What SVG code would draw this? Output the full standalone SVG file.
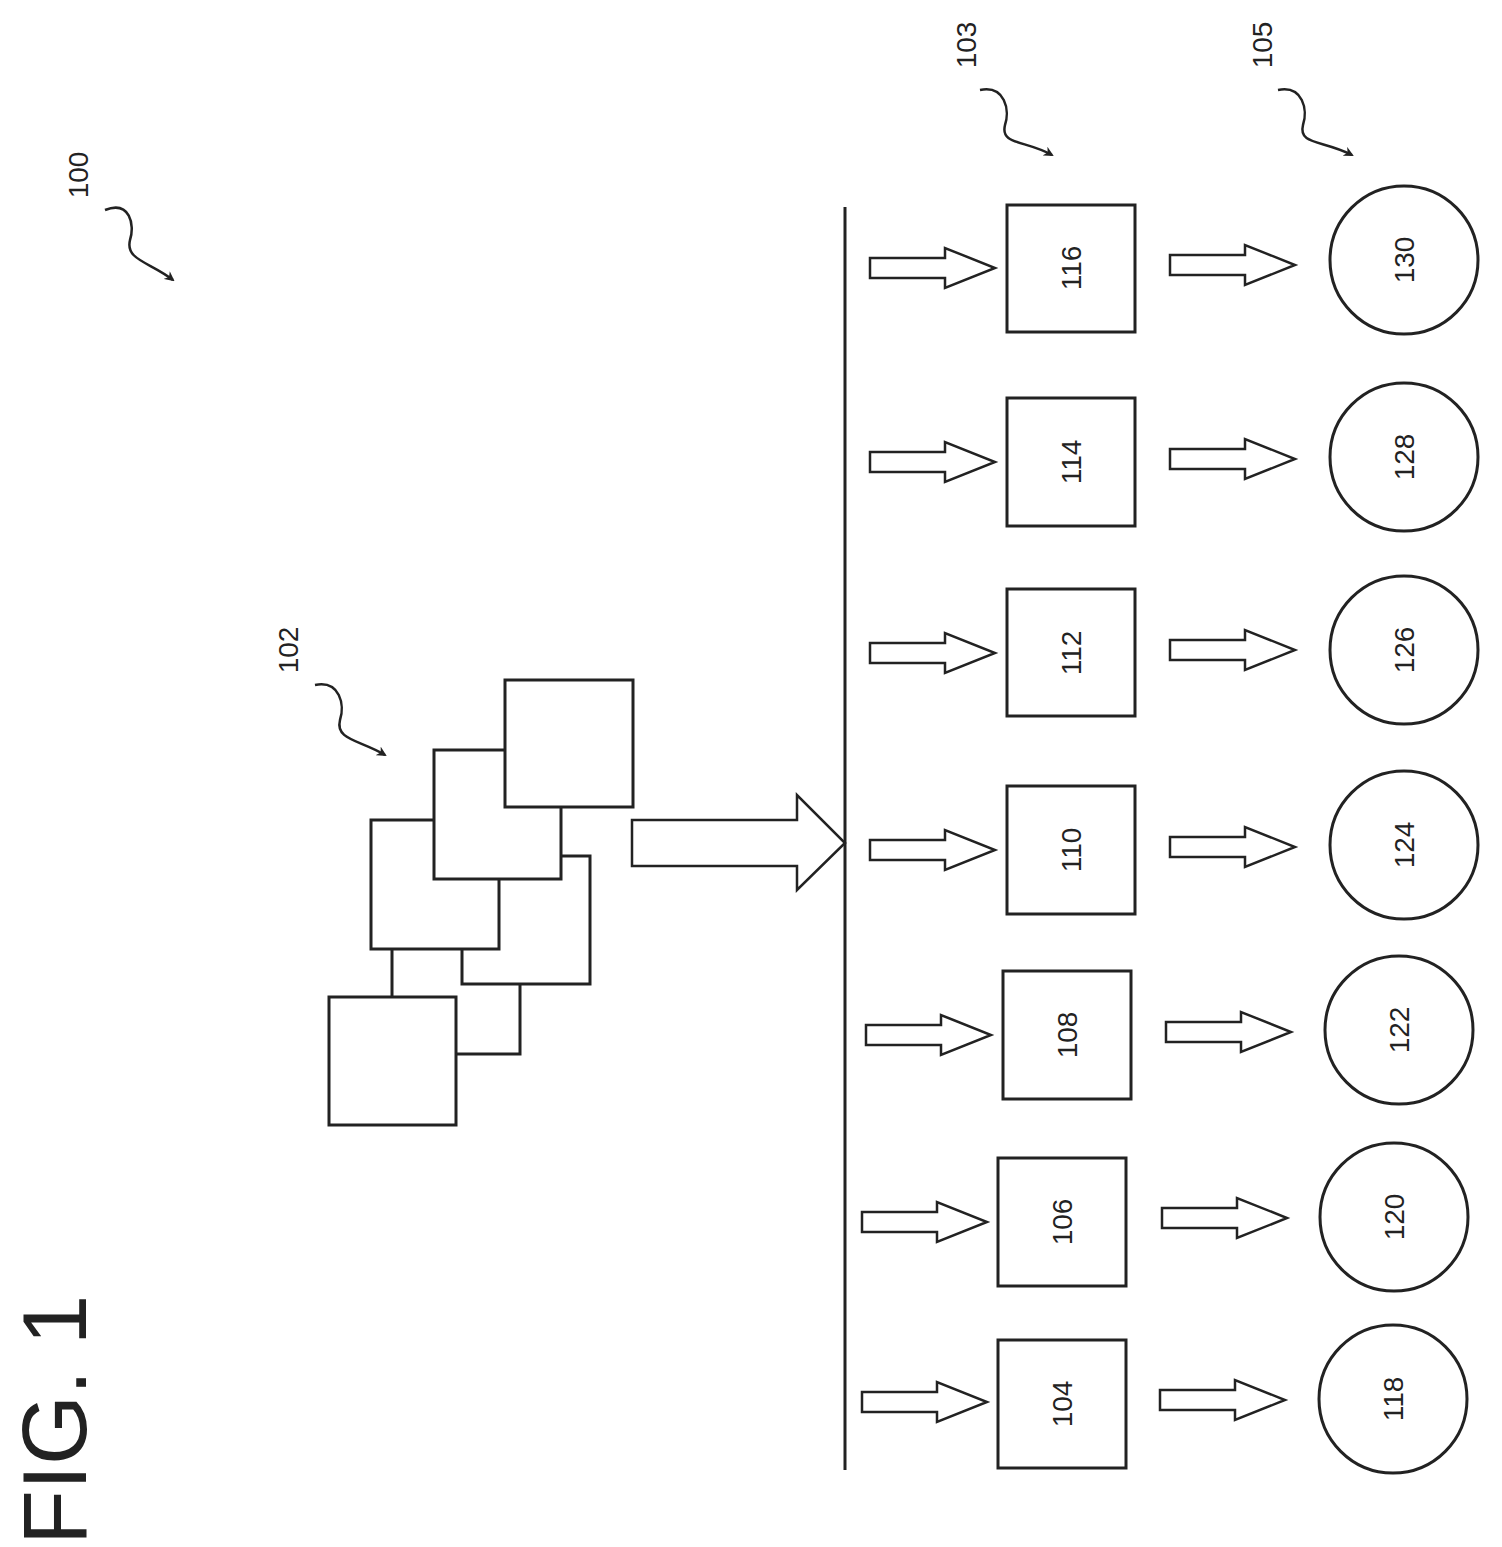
<svg xmlns="http://www.w3.org/2000/svg" width="1502" height="1547" viewBox="0 0 1502 1547">
<style>
.b{fill:#fff;stroke:#222;stroke-width:3}
.t{font-family:"Liberation Sans",Arial,sans-serif;font-size:28px;fill:#222;text-anchor:middle;dominant-baseline:central}
.l{fill:none;stroke:#222;stroke-width:2.5}
.a{fill:#fff;stroke:#222;stroke-width:2.5}
</style>
<defs>
<marker id="h" markerWidth="10" markerHeight="10" refX="8" refY="5" orient="auto" markerUnits="userSpaceOnUse" viewBox="0 0 10 10"><path d="M0,0 L10,5 L0,10 L3,5 Z" fill="#222"/></marker>
<path id="ar" d="M0,-10 L75,-10 L75,-20 L125,0 L75,20 L75,10 L0,10 Z"/>
</defs>
<rect width="1502" height="1547" fill="#fff"/>
<text class="t" style="font-size:90px" transform="translate(55,1420) rotate(-90)">FIG. 1</text>
<g id="labels">
<text class="t" transform="translate(78,175) rotate(-90)">100</text>
<text class="t" transform="translate(288,650) rotate(-90)">102</text>
<text class="t" transform="translate(966,45) rotate(-90)">103</text>
<text class="t" transform="translate(1262,45) rotate(-90)">105</text>
</g>
<g id="connectors">
<path class="l" marker-end="url(#h)" d="M105,210 C130,200 135,225 130,240 C125,260 150,262 173,280"/>
<path class="l" marker-end="url(#h)" d="M315,685 C340,680 345,705 340,720 C335,740 360,740 385,755"/>
<path class="l" marker-end="url(#h)" d="M980,90 C1005,85 1010,110 1005,125 C1000,145 1025,140 1052,155"/>
<path class="l" marker-end="url(#h)" d="M1278,90 C1303,85 1308,110 1303,125 C1298,145 1323,140 1352,155"/>
<line x1="845" y1="207" x2="845" y2="1470" stroke="#222" stroke-width="3"/>
<path class="a" d="M632,820 L797,820 L797,795 L845,843 L797,890 L797,866 L632,866 Z"/>
<use href="#ar" class="a" x="870" y="268"/><use href="#ar" class="a" x="1170" y="265"/>
<use href="#ar" class="a" x="870" y="462"/><use href="#ar" class="a" x="1170" y="459"/>
<use href="#ar" class="a" x="870" y="653"/><use href="#ar" class="a" x="1170" y="650"/>
<use href="#ar" class="a" x="870" y="850"/><use href="#ar" class="a" x="1170" y="847"/>
<use href="#ar" class="a" x="866" y="1035"/><use href="#ar" class="a" x="1166" y="1032"/>
<use href="#ar" class="a" x="862" y="1222"/><use href="#ar" class="a" x="1162" y="1218"/>
<use href="#ar" class="a" x="862" y="1402"/><use href="#ar" class="a" x="1160" y="1400"/>
</g>
<g id="n102">
<rect class="b" x="392" y="925" width="128" height="129"/>
<rect class="b" x="329" y="997" width="127" height="128"/>
<rect class="b" x="462" y="856" width="128" height="128"/>
<rect class="b" x="371" y="820" width="128" height="129"/>
<rect class="b" x="434" y="750" width="127" height="129"/>
<rect class="b" x="505" y="680" width="128" height="127"/>
</g>
<g id="n116"><rect class="b" x="1007" y="205" width="128" height="127"/><text class="t" transform="translate(1071,268) rotate(-90)">116</text></g>
<g id="n114"><rect class="b" x="1007" y="398" width="128" height="128"/><text class="t" transform="translate(1071,462) rotate(-90)">114</text></g>
<g id="n112"><rect class="b" x="1007" y="589" width="128" height="127"/><text class="t" transform="translate(1071,653) rotate(-90)">112</text></g>
<g id="n110"><rect class="b" x="1007" y="786" width="128" height="128"/><text class="t" transform="translate(1071,850) rotate(-90)">110</text></g>
<g id="n108"><rect class="b" x="1003" y="971" width="128" height="128"/><text class="t" transform="translate(1067,1035) rotate(-90)">108</text></g>
<g id="n106"><rect class="b" x="998" y="1158" width="128" height="128"/><text class="t" transform="translate(1062,1222) rotate(-90)">106</text></g>
<g id="n104"><rect class="b" x="998" y="1340" width="128" height="128"/><text class="t" transform="translate(1062,1404) rotate(-90)">104</text></g>
<g id="n130"><circle class="b" cx="1404" cy="260" r="74"/><text class="t" transform="translate(1404,260) rotate(-90)">130</text></g>
<g id="n128"><circle class="b" cx="1404" cy="457" r="74"/><text class="t" transform="translate(1404,457) rotate(-90)">128</text></g>
<g id="n126"><circle class="b" cx="1404" cy="650" r="74"/><text class="t" transform="translate(1404,650) rotate(-90)">126</text></g>
<g id="n124"><circle class="b" cx="1404" cy="845" r="74"/><text class="t" transform="translate(1404,845) rotate(-90)">124</text></g>
<g id="n122"><circle class="b" cx="1399" cy="1030" r="74"/><text class="t" transform="translate(1399,1030) rotate(-90)">122</text></g>
<g id="n120"><circle class="b" cx="1394" cy="1217" r="74"/><text class="t" transform="translate(1394,1217) rotate(-90)">120</text></g>
<g id="n118"><circle class="b" cx="1393" cy="1399" r="74"/><text class="t" transform="translate(1393,1399) rotate(-90)">118</text></g>
</svg>
